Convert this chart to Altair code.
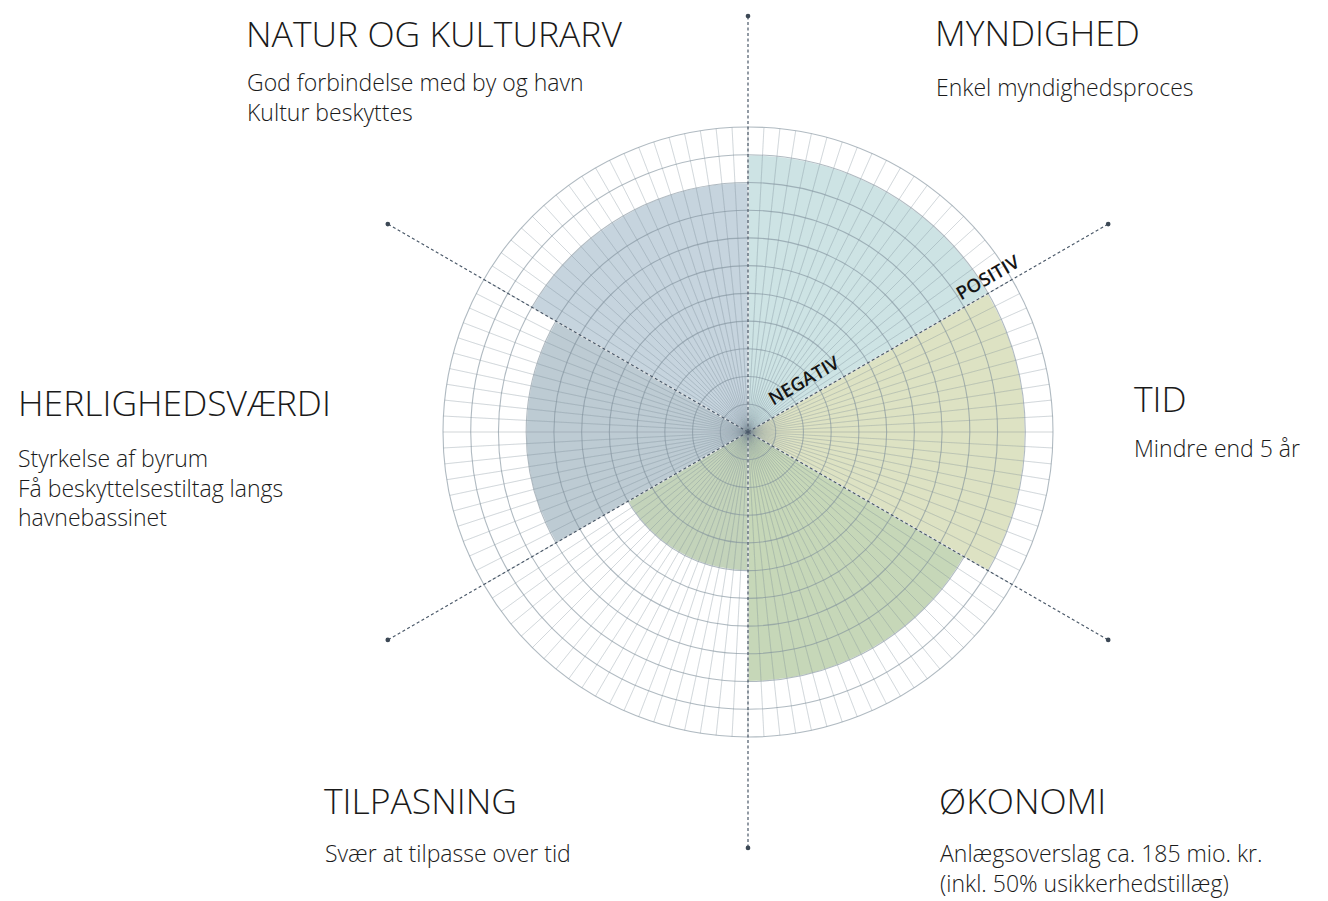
import math
import altair as alt
import numpy as np
import pandas as pd

# ---------------- data ----------------
CATEGORIES = ["MYNDIGHED", "TID", "ØKONOMI", "TILPASNING", "HERLIGHEDSVÆRDI", "NATUR OG KULTURARV"]
SCORES = [10, 10, 9, 5, 8, 9]
COLORS = ["#cde3e4", "#dde2c3", "#c6d7b8", "#c3d3ba", "#bdcbd3", "#c6d4de"]
DESCRIPTIONS = [
    ["Enkel myndighedsproces"],
    ["Mindre end 5 år"],
    ["Anlægsoverslag ca. 185 mio. kr.", "(inkl. 50% usikkerhedstillæg)"],
    ["Svær at tilpasse over tid"],
    ["Styrkelse af byrum", "Få beskyttelsestiltag langs", "havnebassinet"],
    ["God forbindelse med by og havn", "Kultur beskyttes"],
]
SECTOR_SPAN = 60                 # degrees per category
SCALE_MAX = 11                   # number of rings
RING_VALUES = list(range(1, SCALE_MAX + 1))
SPOKE_STEP = 3                   # degrees between fine radial lines
AXIS_ANGLES = [0, 60, 120, 180, 240, 300]
AXIS_LENGTH = 15
AXIS_LABELS = ["NEGATIV", "POSITIV"]

# ---------------- layout (pixels, chart coords) ----------------
W, H = 1312, 893
CX, CY = 740, 424
R_OUT = 305
PPU = R_OUT / SCALE_MAX

TITLE_POS = [(927, 38), (1126, 404), (931, 806), (316, 806), (10, 408), (238, 39)]
DESC_POS = [(928, 88), (1126, 449), (932, 854), (317, 854), (10, 459), (239, 83)]
DESC_LINE_H = [29, 29, 29.5, 29, 29.5, 29.5]
LABEL_POS = [(796, 373), (980, 270)]
LABEL_SIZE = 18.5
TITLE_SIZE = 35.5
DESC_SIZE = 23


def to_x(px):
    return (px - CX) / PPU


def to_y(py):
    return (CY - py) / PPU


x_scale = alt.Scale(domain=[-CX / PPU, (W - CX) / PPU], nice=False, zero=False)
y_scale = alt.Scale(domain=[-(H - CY) / PPU, CY / PPU], nice=False, zero=False)
t_scale = alt.Scale(domain=[0, 360], range=[0, 2 * math.pi], zero=True, nice=False)
r_scale = alt.Scale(type="linear", domain=[0, SCALE_MAX], range=[0, R_OUT], zero=True, nice=False)

X0 = alt.X("cx:Q", scale=x_scale, axis=None)
Y0 = alt.Y("cy:Q", scale=y_scale, axis=None)

# sectors
df_sect = pd.DataFrame({
    "category": CATEGORIES,
    "score": SCORES,
    "start": [i * SECTOR_SPAN for i in range(len(CATEGORIES))],
    "end": [(i + 1) * SECTOR_SPAN for i in range(len(CATEGORIES))],
    "cx": 0.0, "cy": 0.0,
})
sectors = alt.Chart(df_sect).mark_arc(stroke="white", strokeWidth=1.2).encode(
    x=X0, y=Y0,
    theta=alt.Theta("start:Q", scale=t_scale),
    theta2="end:Q",
    radius=alt.Radius("score:Q", scale=r_scale),
    color=alt.Color("category:N", scale=alt.Scale(domain=CATEGORIES, range=COLORS), legend=None),
)

# spokes (degenerate arcs -> radial lines)
df_spokes = pd.DataFrame({"a": np.arange(0, 360, SPOKE_STEP), "r": SCALE_MAX, "cx": 0.0, "cy": 0.0})
spokes = alt.Chart(df_spokes).mark_arc(
    fillOpacity=0, stroke="#7a8b96", strokeOpacity=0.26, strokeWidth=0.7
).encode(
    x=X0, y=Y0,
    theta=alt.Theta("a:Q", scale=t_scale),
    theta2="a:Q",
    radius=alt.Radius("r:Q", scale=r_scale),
)

# rings
df_rings = pd.DataFrame({"r": RING_VALUES, "t0": 0, "t1": 360, "cx": 0.0, "cy": 0.0})
rings = alt.Chart(df_rings).mark_arc(
    fillOpacity=0, stroke="#7f909b", strokeOpacity=0.62, strokeWidth=1.1
).encode(
    x=X0, y=Y0,
    theta=alt.Theta("t0:Q", scale=t_scale),
    theta2="t1:Q",
    radius=alt.Radius("r:Q", scale=r_scale),
)

# dashed axis lines
rows = []
for a in AXIS_ANGLES:
    rows.append({"angle": a, "r": 0})
    rows.append({"angle": a, "r": AXIS_LENGTH})
df_axes = pd.DataFrame(rows)
axes_base = alt.Chart(df_axes).transform_calculate(
    px="datum.r * sin(datum.angle * PI / 180)",
    py="datum.r * cos(datum.angle * PI / 180)",
)
axis_lines = axes_base.mark_line(strokeDash=[3, 2.5], color="#4a5868", strokeWidth=1.2).encode(
    x=alt.X("px:Q", scale=x_scale, axis=None),
    y=alt.Y("py:Q", scale=y_scale, axis=None),
    detail="angle:N",
    order="r:Q",
)
axis_dots = axes_base.transform_filter(f"datum.r == {AXIS_LENGTH}").mark_circle(
    size=22, color="#3c4855", opacity=1
).encode(
    x=alt.X("px:Q", scale=x_scale, axis=None),
    y=alt.Y("py:Q", scale=y_scale, axis=None),
)

# NEGATIV / POSITIV labels
df_lab = pd.DataFrame({
    "label": AXIS_LABELS,
    "lx": [to_x(p[0]) for p in LABEL_POS],
    "ly": [to_y(p[1]) for p in LABEL_POS],
})
axis_labels = alt.Chart(df_lab).mark_text(
    font="Open Sans", fontSize=LABEL_SIZE, fontWeight=600, color="#151515",
    angle=330, align="center", baseline="middle",
).encode(
    x=alt.X("lx:Q", scale=x_scale, axis=None),
    y=alt.Y("ly:Q", scale=y_scale, axis=None),
    text="label:N",
)

# titles and descriptions
df_titles = pd.DataFrame({
    "title": CATEGORIES,
    "tx": [to_x(p[0]) for p in TITLE_POS],
    "ty": [to_y(p[1]) for p in TITLE_POS],
})
titles = alt.Chart(df_titles).mark_text(
    font="Open Sans", fontSize=TITLE_SIZE, fontWeight=300, color="#1a1a1a",
    align="left", baseline="alphabetic",
).encode(
    x=alt.X("tx:Q", scale=x_scale, axis=None),
    y=alt.Y("ty:Q", scale=y_scale, axis=None),
    text="title:N",
)

desc_rows = []
for lines, (px, py), lh in zip(DESCRIPTIONS, DESC_POS, DESC_LINE_H):
    for k, line in enumerate(lines):
        desc_rows.append({"desc": line, "dx": to_x(px), "dy": to_y(py + k * lh)})
df_desc = pd.DataFrame(desc_rows)
descs = alt.Chart(df_desc).mark_text(
    font="Open Sans", fontSize=DESC_SIZE, fontWeight=300, color="#1a1a1a",
    align="left", baseline="alphabetic",
).encode(
    x=alt.X("dx:Q", scale=x_scale, axis=None),
    y=alt.Y("dy:Q", scale=y_scale, axis=None),
    text="desc:N",
)

chart = alt.layer(
    sectors, spokes, rings, axis_lines, axis_dots, axis_labels, titles, descs
).properties(
    width=W, height=H, padding=0, background="white"
).configure_view(stroke=None)

chart.save("out.html", embed_options={"renderer": "svg", "actions": False})
